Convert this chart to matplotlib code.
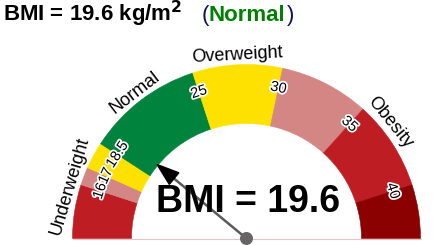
import numpy as np
import matplotlib
matplotlib.use("Agg")
import matplotlib.pyplot as plt
import matplotlib.patheffects as pe
from matplotlib.patches import Wedge, Polygon, Circle

plt.rcParams['font.family'] = ['Liberation Sans', 'DejaVu Sans']

# data
bmi = 19.6
bmi_min, bmi_max = 13, 43
band_edges = [13, 16, 17, 18.5, 25, 30, 35, 40, 43]
band_colors = ['#BE1E23', '#D38684', '#FFE100', '#00843D',
               '#FFE100', '#D38684', '#BE1E23', '#8B0000']
tick_values = [16, 17, 18.5, 25, 30, 35, 40]
tick_labels = ['16', '17', '18.5', '25', '30', '35', '40']
categories = ['Underweight', 'Normal', 'Overweight', 'Obesity']
category_ranges = [(13, 18.5), (18.5, 25), (25, 30), (30, 43)]
category_name = 'Normal'

# gauge geometry (figure pixels)
cx, cy = 246.5, 6.5
r_out, r_in = 174, 115


def ang(v):
    # BMI value -> polar angle in degrees
    return 180 - (v - bmi_min) / (bmi_max - bmi_min) * 180


def pol(r, v):
    a = np.radians(ang(v))
    return cx + r * np.cos(a), cy + r * np.sin(a)


fig = plt.figure(figsize=(4.33, 2.45), dpi=100)
ax = fig.add_axes([0, 0, 1, 1])
ax.set_xlim(0, 433)
ax.set_ylim(0, 245)
ax.axis('off')

# colour bands
for lo, hi, c in zip(band_edges[:-1], band_edges[1:], band_colors):
    ax.add_patch(Wedge((cx, cy), r_out, ang(hi), ang(lo), width=r_out - r_in,
                       facecolor=c, edgecolor=c, lw=0.4))

ax.plot([cx - r_out, cx + r_out], [cy - 0.5, cy - 0.5], color='#E6C4C4', lw=0.8)

# tick labels
for v, t in zip(tick_values, tick_labels):
    x, y = pol(154, v)
    ax.text(x, y, t, fontsize=10.5, ha='center', va='center',
            rotation=ang(v) - 90, rotation_mode='anchor',
            path_effects=[pe.withStroke(linewidth=2.5, foreground='white')])

# category labels
for name, (lo, hi) in zip(categories, category_ranges):
    mid = (lo + hi) / 2
    x, y = pol(184, mid)
    ax.text(x, y, name, fontsize=13, ha='center', va='center',
            rotation=ang(mid) - 90, rotation_mode='anchor')

# needle
tip_r, head_len, head_w = 116, 22, 7.5
a = np.radians(ang(bmi))
ux, uy = np.cos(a), np.sin(a)
tx, ty = cx + tip_r * ux, cy + tip_r * uy
bx, by = cx + (tip_r - head_len) * ux, cy + (tip_r - head_len) * uy
ax.plot([cx, bx], [cy, by], color='#5a5a5a', lw=1.8, zorder=4)
ax.add_patch(Polygon([(tx, ty), (bx - head_w * uy, by + head_w * ux),
                      (bx + head_w * uy, by - head_w * ux)],
                     closed=True, facecolor='black', edgecolor='black', zorder=5))
ax.add_patch(Circle((cx, cy), 6.5, facecolor='#666666', edgecolor='none', zorder=6))

ax.text(248.5, 43, 'BMI = %.1f' % bmi, fontsize=27, fontweight='bold',
        ha='center', va='center', zorder=7)

# title
ax.text(3, 231, 'BMI = %.1f kg/m$^\\mathbf{2}$' % bmi, fontsize=16, fontweight='bold',
        ha='left', va='center')
ax.text(202, 229, '(', fontsize=16, color='#10105a', ha='left', va='center')
ax.text(208, 229, category_name, fontsize=16, fontweight='bold', color='#008000',
        ha='left', va='center')
ax.text(287, 229, ')', fontsize=16, color='#10105a', ha='left', va='center')

fig.savefig('out.png', dpi=100)
